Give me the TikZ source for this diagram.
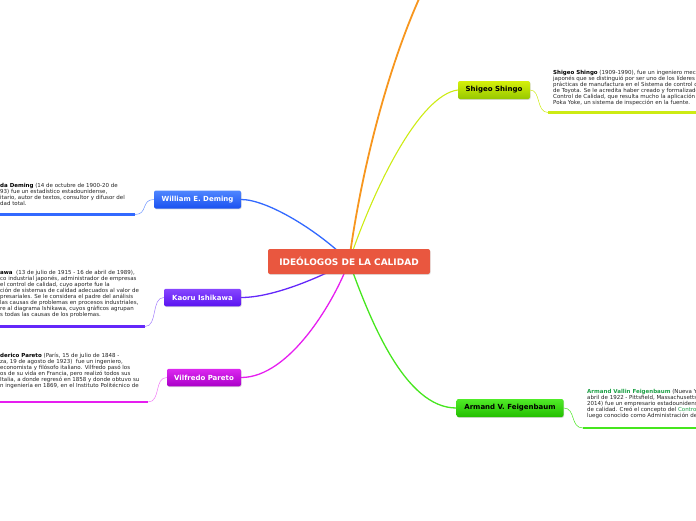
\documentclass[tikz,border=0pt]{standalone}
\usepackage{fontspec}
\setmainfont{DejaVu Sans}
\usetikzlibrary{shadows,backgrounds}

\definecolor{hubred}{RGB}{233,87,63}
\definecolor{shingotop}{RGB}{214,240,10}
\definecolor{shingobot}{RGB}{150,200,0}
\definecolor{shingoline}{RGB}{205,235,20}
\definecolor{demingtop}{RGB}{80,135,255}
\definecolor{demingbot}{RGB}{25,80,240}
\definecolor{demingline}{RGB}{50,105,255}
\definecolor{ishitop}{RGB}{135,70,255}
\definecolor{ishibot}{RGB}{90,20,240}
\definecolor{ishiline}{RGB}{100,40,250}
\definecolor{paretotop}{RGB}{220,40,240}
\definecolor{paretobot}{RGB}{170,0,200}
\definecolor{paretoline}{RGB}{230,30,240}
\definecolor{feigentop}{RGB}{80,235,40}
\definecolor{feigenbot}{RGB}{35,190,0}
\definecolor{feigenline}{RGB}{70,230,30}
\definecolor{feigenname}{RGB}{30,160,70}
\definecolor{orangeline}{RGB}{247,150,30}
\definecolor{bodytext}{RGB}{35,35,35}

\begin{document}
\begin{tikzpicture}[
    x=1pt, y=-1pt,
    hub/.style={fill=hubred, rounded corners=2pt, inner sep=0pt, minimum width=162pt, minimum height=25pt,
      text=white, font=\fontsize{9}{10}\selectfont\bfseries,
      drop shadow={shadow xshift=0.6pt, shadow yshift=-0.8pt, opacity=0.25}},
    topic/.style={rounded corners=2pt, inner sep=0pt, minimum height=18pt, font=\fontsize{7}{8}\selectfont\bfseries,
      drop shadow={shadow xshift=0.6pt, shadow yshift=-0.8pt, opacity=0.3}},
    note/.style={anchor=north west, align=left, inner sep=0pt, text=bodytext, font=\fontsize{5.5}{6}\selectfont},
    branch/.style={line width=1.3pt},
    twig/.style={line width=0.5pt},
    rule/.style={line width=2.6pt}
  ]
    \useasboundingbox (0,0) rectangle (696,520);
    \clip (0,0) rectangle (696,520);

    % central topic and main branches
    \node[hub] (hub) at (349,261.5) {IDEÓLOGOS DE LA CALIDAD};
    \node[topic, minimum width=72pt, top color=shingotop, bottom color=shingobot] (shingo) at (494,90) {Shigeo Shingo};
    \node[topic, minimum width=87pt, top color=demingtop, bottom color=demingbot, text=white] (deming) at (197.5,199.5) {William E. Deming};
    \node[topic, minimum width=77pt, minimum height=17.5pt, top color=ishitop, bottom color=ishibot, text=white] (ishikawa) at (202.5,297.5) {Kaoru Ishikawa};
    \node[topic, minimum width=74pt, minimum height=17.5pt, top color=paretotop, bottom color=paretobot, text=white] (pareto) at (204,377.5) {Vilfredo Pareto};
    \node[topic, minimum width=107pt, top color=feigentop, bottom color=feigenbot] (feigen) at (510,408) {Armand V. Feigenbaum};
    \coordinate (topout) at (424,-12);

    \begin{pgfonlayer}{background}
      \draw[branch, orangeline, line width=1.8pt] (hub.center) .. controls (362,165) and (390,60) .. (topout);
      \draw[branch, shingoline, line width=1.1pt] (hub.center) .. controls (375,185) and (420,95) .. (shingo.west);
      \draw[branch, demingline] (hub.center) .. controls (320,232) and (268,199.5) .. (deming.east);
      \draw[branch, ishiline] (hub.center) .. controls (325,275) and (275,297.5) .. (ishikawa.east);
      \draw[branch, paretoline] (hub.center) .. controls (335,300) and (290,377.5) .. (pareto.east);
      \draw[branch, feigenline] (hub.center) .. controls (370,320) and (405,408) .. (feigen.west);
    \end{pgfonlayer}

    % notes, rules and twigs
    \coordinate (shingotip) at (548,112.5);
    \draw[rule, shingoline] (shingotip) -- (700,112.5);
    \draw[twig, shingoline] (shingo.east) .. controls (541,90) and (536,112.5) .. (shingotip);
    \node[note] (shingonote) at (553,70.5) {\textbf{\color{black}Shigeo Shingo} (1909-1990), fue un ingeniero mec\\
      japonés que se distinguió por ser uno de los líderes\\
      prácticas de manufactura en el Sistema de control de\\
      de Toyota. Se le acredita haber creado y formalizado\\
      Control de Calidad, que resulta mucho la aplicación\\
      Poka Yoke, un sistema de inspección en la fuente.};

    \coordinate (feigentip) at (583,428);
    \draw[rule, feigenline] (feigentip) -- (700,428);
    \draw[twig, feigenline] (feigen.east) .. controls (576,408) and (570,428) .. (feigentip);
    \node[note] (feigennote) at (587,389.5) {\textbf{\color{feigenname}Armand Vallin Feigenbaum} (Nueva Yo\\
      abril de 1922 - Pittsfield, Massachusetts\\
      2014) fue un empresario estadounidense\\
      de calidad. Creó el concepto del {\color{feigenname}Control}\\
      luego conocido como Administración de};

    \coordinate (demingtip) at (135,214.5);
    \draw[rule, demingline] (-4,214.5) -- (demingtip);
    \draw[twig, demingline!70] (demingtip) .. controls (148,214.5) and (141,199.5) .. (deming.west);
    \node[note] (demingnote) at (0,183) {\textbf{\color{black}da Deming} (14 de octubre de 1900-20 de\\
      93) fue un estadístico estadounidense,\\
      itario, autor de textos, consultor y difusor del\\
      dad total.};

    \coordinate (ishikawatip) at (145,326.5);
    \draw[rule, ishiline] (-4,326.5) -- (ishikawatip);
    \draw[twig, ishiline!60] (ishikawatip) .. controls (158,326.5) and (151,297.5) .. (ishikawa.west);
    \node[note] (ishikawanote) at (0,270.5) {\textbf{\color{black}awa}\ \ (13 de julio de 1915 - 16 de abril de 1989),\\
      co industrial japonés, administrador de empresas\\
      el control de calidad, cuyo aporte fue la\\
      ción de sistemas de calidad adecuados al valor de\\
      presariales. Se le considera el padre del análisis\\
      las causas de problemas en procesos industriales,\\
      re al diagrama Ishikawa, cuyos gráficos agrupan\\
      s todas las causas de los problemas.};

    \coordinate (paretotip) at (148,402);
    \draw[rule, paretoline] (-4,402) -- (paretotip);
    \draw[twig, paretoline!60] (paretotip) .. controls (161,402) and (154,377.5) .. (pareto.west);
    \node[note] (paretonote) at (0,353) {\textbf{\color{black}derico Pareto} (París, 15 de julio de 1848 -\\
      za, 19 de agosto de 1923)\ \ fue un ingeniero,\\
      economista y filósofo italiano. Vilfredo pasó los\\
      os de su vida en Francia, pero realizó todos sus\\
      Italia, a donde regresó en 1858 y donde obtuvo su\\
      n ingeniería en 1869, en el Instituto Politécnico de};
\end{tikzpicture}
\end{document}
